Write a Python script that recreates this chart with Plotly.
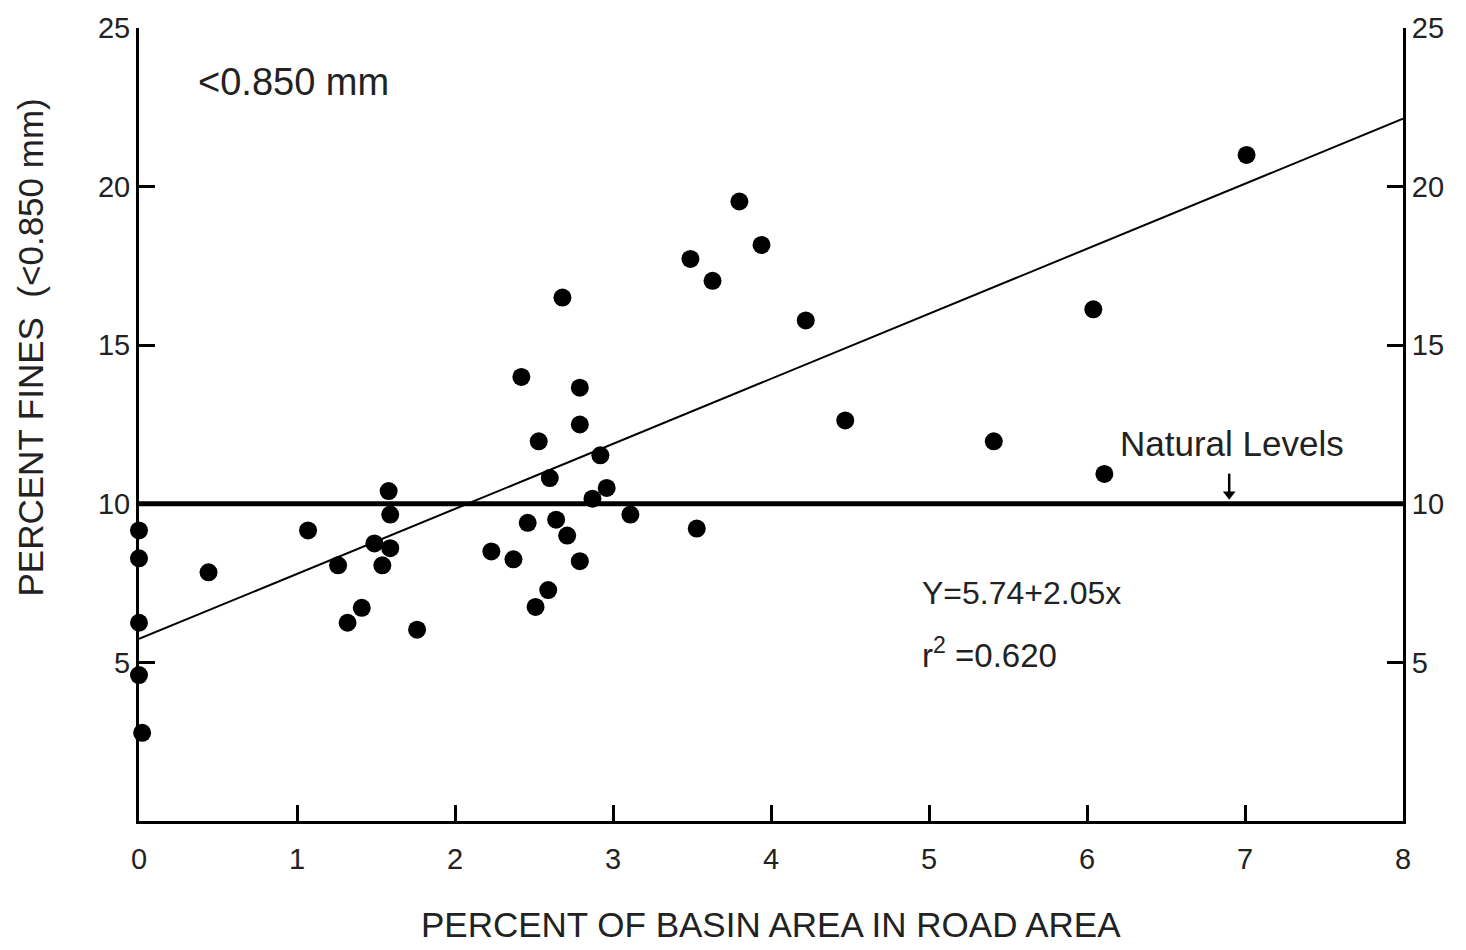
import plotly.graph_objects as go

# Data
road_area_pct = [0.0, 0.0, 0.0, 0.0, 0.02, 0.44, 1.07, 1.26, 1.32, 1.41, 1.49, 1.54, 1.59, 1.58, 1.59, 1.76,
                 2.68, 2.42, 2.79, 2.79, 2.53, 2.92, 2.60, 2.96, 2.87, 3.11, 2.46, 2.64, 2.71, 2.23, 2.37,
                 2.79, 2.59, 2.51, 3.53, 3.49, 3.63, 3.80, 3.94, 4.22, 4.47, 5.41, 6.04, 6.11, 7.01]
percent_fines = [9.16, 8.28, 6.25, 4.6, 2.78, 7.84, 9.16, 8.06, 6.25, 6.72, 8.75, 8.06, 8.6, 10.4, 9.66, 6.03,
                 16.5, 14.0, 13.66, 12.5, 11.97, 11.53, 10.81, 10.5, 10.16, 9.66, 9.4, 9.5, 9.0, 8.5, 8.25,
                 8.19, 7.28, 6.75, 9.22, 17.72, 17.03, 19.53, 18.16, 15.78, 12.63, 11.97, 16.13, 10.94, 21.0]

intercept = 5.74
slope = 2.05
fit_x = [0, 8]
fit_y = [intercept + slope * v for v in fit_x]

natural_level = 10
natural_x = [0, 8]
arrow_x = [6.9, 6.9]
arrow_y = [10.95, 10.3]

x_ticks = [0, 1, 2, 3, 4, 5, 6, 7, 8]
y_ticks = [5, 10, 15, 20, 25]

FONT = "Liberation Sans, Arial, sans-serif"

fig = go.Figure()
fig.add_trace(go.Scatter(x=natural_x, y=[natural_level, natural_level], mode="lines",
                         line=dict(color="black", width=5), showlegend=False, hoverinfo="skip"))
fig.add_trace(go.Scatter(x=fit_x, y=fit_y, mode="lines",
                         line=dict(color="black", width=2), showlegend=False))
fig.add_trace(go.Scatter(x=road_area_pct, y=percent_fines, mode="markers",
                         marker=dict(color="black", size=18), showlegend=False, cliponaxis=False))
# "Natural Levels" pointer arrow
fig.add_trace(go.Scatter(x=arrow_x, y=arrow_y, mode="lines", line=dict(color="black", width=2.5),
                         showlegend=False, hoverinfo="skip"))
fig.add_trace(go.Scatter(x=arrow_x[1:], y=arrow_y[1:], mode="markers",
                         marker=dict(symbol="triangle-down", color="black", size=11),
                         showlegend=False, hoverinfo="skip"))
# invisible trace to activate right axis
fig.add_trace(go.Scatter(x=[0], y=[0], yaxis="y2", mode="markers",
                         marker=dict(opacity=0), showlegend=False, hoverinfo="skip"))

axis_common = dict(ticks="inside", ticklen=16, tickwidth=3, tickcolor="black", showline=True,
                   linecolor="black", linewidth=3, showgrid=False, zeroline=False,
                   tickfont=dict(size=29), automargin=False, ticklabeloverflow="allow")

fig.update_layout(
    width=1458, height=942,
    margin=dict(l=131, r=63, t=20, b=129),
    paper_bgcolor="white", plot_bgcolor="white",
    font=dict(family=FONT, color="#222", size=28),
    xaxis=dict(range=[0, 8], tickvals=x_ticks, ticklabelstandoff=10, **axis_common),
    yaxis=dict(range=[0, 25], tickvals=y_ticks, **axis_common),
    yaxis2=dict(range=[0, 25], tickvals=y_ticks, overlaying="y", side="right", **axis_common),
    annotations=[
        dict(x=-0.086, y=0.5975, xref="paper", yref="paper", text="PERCENT FINES  (<0.850 mm)",
             textangle=-90, showarrow=False, font=dict(size=35), xanchor="center", yanchor="middle"),
        dict(x=0.5, y=-0.131, xref="paper", yref="paper", text="PERCENT OF BASIN AREA IN ROAD AREA",
             showarrow=False, font=dict(size=35), xanchor="center", yanchor="middle"),
        dict(x=0.36, y=23.3, xref="x", yref="y", text="<0.850 mm", showarrow=False,
             xanchor="left", font=dict(size=38)),
        dict(x=6.92, y=11.9, xref="x", yref="y", text="Natural Levels", showarrow=False,
             xanchor="center", font=dict(size=35)),
        dict(x=4.94, y=7.2, xref="x", yref="y", text="Y=5.74+2.05x", showarrow=False,
             xanchor="left", font=dict(size=32)),
        dict(x=4.94, y=5.3, xref="x", yref="y", text="r<sup>2</sup> =0.620", showarrow=False,
             xanchor="left", font=dict(size=33)),
    ],
)

fig.write_html("out.html")
